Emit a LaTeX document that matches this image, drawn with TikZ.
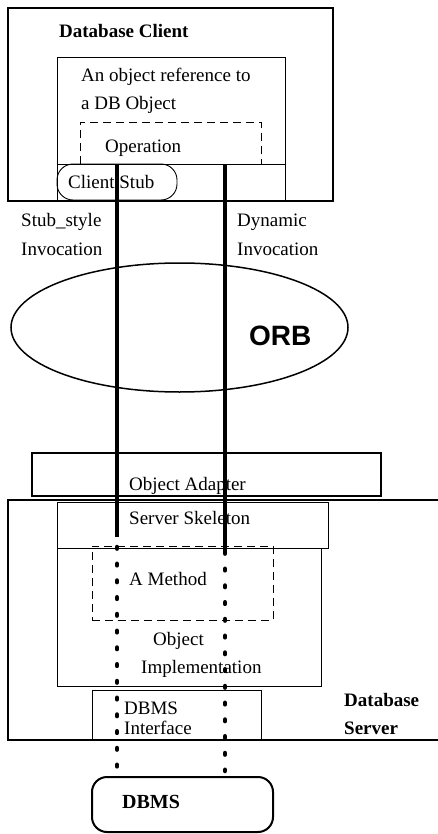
\documentclass[tikz,border=0pt]{standalone}
\usepackage{fontspec}
\setmainfont{Liberation Serif}
\newfontfamily\orbfont{Liberation Sans}
\usetikzlibrary{shapes.geometric}
\begin{document}
\begin{tikzpicture}[x=1pt,y=-1pt,
  box/.style={draw, anchor=north west, inner sep=0pt, outer sep=0pt},
  thickbox/.style={box, line width=2pt},
  thinbox/.style={box, line width=0.9pt},
  dashbox/.style={line width=0.9pt, dash pattern=on 8pt off 5pt},
  lbl/.style={anchor=base west, inner sep=0pt, font=\fontsize{19}{28}\selectfont},
  blbl/.style={anchor=base west, inner sep=0pt, font=\fontsize{19}{28}\selectfont\bfseries},
  call/.style={line width=4.5pt},
  dotcall/.style={line width=4.5pt, line cap=round, dash pattern=on 1.6pt off 15.15pt},
]
\useasboundingbox (0,0) rectangle (438,834);

% client side
\node[thickbox, minimum width=325pt, minimum height=193pt] (client) at (8,8) {};
\node[thinbox, minimum width=228pt, minimum height=144pt] (objref) at (57,57) {};
\coordinate (divl) at (57,164);
\coordinate (divr) at (285,164);
\draw[line width=0.9pt] (divl) -- (divr);
\coordinate (op1) at (80,164);
\coordinate (op2) at (80,122);
\coordinate (op3) at (261,122);
\coordinate (op4) at (261,164);
\draw[dashbox] (op1) -- (op2) -- (op3) -- (op4);
\node[thinbox, rounded corners=16pt, minimum width=120pt, minimum height=36pt] (stub) at (57,164) {};

\node[blbl] (tclient) at (59,38) {Database Client};
\node[lbl] (tref1) at (81,82) {An object reference to};
\node[lbl] (tref2) at (81,110) {a DB Object};
\node[lbl] (top) at (105,153) {Operation};
\node[lbl] (tstub) at (68,189) {Client Stub};
\node[lbl] (tss1) at (21,226) {Stub\_style};
\node[lbl] (tss2) at (21,255) {Invocation};
\node[lbl] (tdy1) at (237,226) {Dynamic};
\node[lbl] (tdy2) at (237,255) {Invocation};

% ORB
\node[draw, ellipse, line width=1.5pt, minimum width=337pt, minimum height=129pt, inner sep=0pt] (orb) at (179.5,327.5) {};
\node[anchor=base west, inner sep=0pt, font=\orbfont\bfseries\fontsize{28}{30}\selectfont] (torb) at (249,345) {ORB};

% server side
\node[thickbox, minimum width=349pt, minimum height=43pt] (adapter) at (32,453) {};
\coordinate (srvtr) at (438,500);
\coordinate (srvtl) at (8,500);
\coordinate (srvbl) at (8,740);
\coordinate (srvbr) at (438,740);
\draw[line width=2pt] (srvtr) -- (srvtl) -- (srvbl) -- (srvbr);
\node[thinbox, minimum width=271pt, minimum height=46pt] (skel) at (57,502) {};
\node[thinbox, minimum width=264pt, minimum height=138pt] (impl) at (57,548) {};
\node[box, dashbox, minimum width=181pt, minimum height=74pt] (method) at (92,546) {};
\node[thinbox, minimum width=169pt, minimum height=50pt] (dbif) at (92,690) {};
\node[thickbox, rounded corners=15pt, minimum width=181pt, minimum height=55pt] (dbms) at (92,777) {};

\node[lbl] (tadapter) at (129,490) {Object Adapter};
\node[lbl] (tskel) at (129,524) {Server Skeleton};
\node[lbl] (tmethod) at (129,585) {A Method};
\node[lbl] (timpl1) at (153,645) {Object};
\node[lbl] (timpl2) at (141,673) {Implementation};
\node[lbl] (tdbif1) at (124,714) {DBMS};
\node[lbl] (tdbif2) at (124,734) {Interface};
\node[blbl] (tsrv1) at (344,706) {Database};
\node[blbl] (tsrv2) at (344,734) {Server};
\node[anchor=base west, inner sep=0pt, font=\fontsize{20}{24}\selectfont\bfseries] (tdbms) at (122,808) {DBMS};

% invocation paths
\coordinate (l1) at (117,164);
\coordinate (l2) at (117,537);
\coordinate (r1) at (225,164);
\coordinate (r2) at (225,553);
\coordinate (ld1) at (117,547);
\coordinate (ld2) at (117,767);
\coordinate (rd1) at (225,552);
\coordinate (rd2) at (225,771);
\draw[dotcall] (ld1) -- (ld2);
\draw[dotcall] (rd1) -- (rd2);
\draw[call] (l1) -- (l2);
\draw[call] (r1) -- (r2);
\end{tikzpicture}
\end{document}
